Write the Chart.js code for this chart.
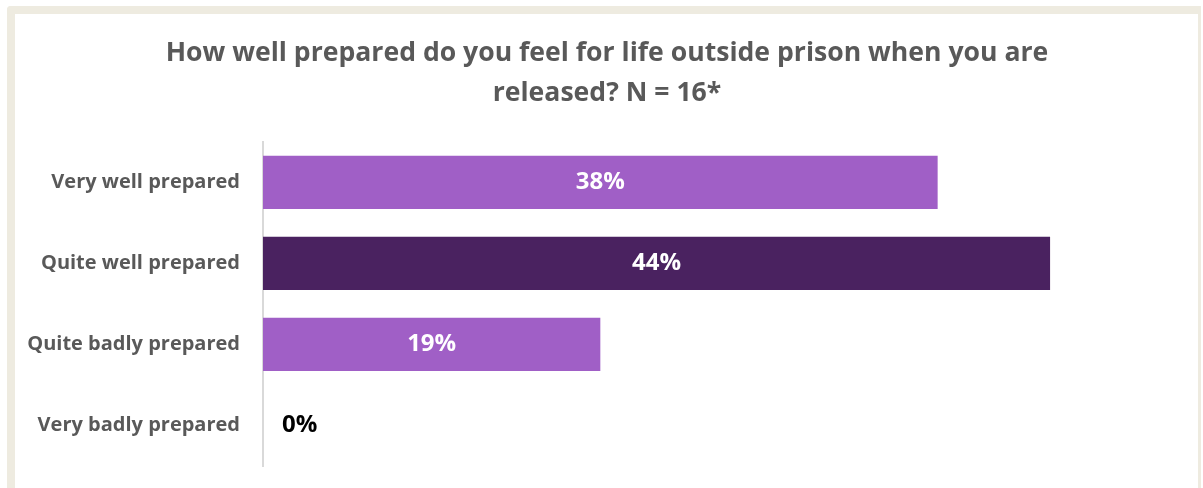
<!DOCTYPE html>
<html>
<head>
<meta charset="utf-8">
<script src="https://cdn.jsdelivr.net/npm/chart.js@4"></script>
<style>
  html, body { margin: 0; padding: 0; background: #fff; }
  #marco {
    position: absolute; left: 7px; top: 6px; width: 1183px; height: 490px;
    border-left: 8px solid #EEEBE0; border-top: 8px solid #EEEBE0; border-right: 3px solid #EEEBE0;
    border-top-left-radius: 4px;
  }
  #caja { position: absolute; left: 0; top: 0; width: 1203px; height: 488px; }
</style>
</head>
<body>
<div id="marco"></div>
<div id="caja"><canvas id="myChart" width="1203" height="488"></canvas></div>
<script>
//Categorias del eje Y
const categorias = ['Very well prepared', 'Quite well prepared', 'Quite badly prepared', 'Very badly prepared'];

//Valores en porcentaje (6/16, 7/16, 3/16, 0/16)
const valores = [37.5, 43.75, 18.75, 0];

//Etiquetas que se muestran en las barras
const etiquetas = ['38%', '44%', '19%', '0%'];

//Colores de cada barra
const colores = ['#A05FC6', '#4A2260', '#A05FC6', '#A05FC6'];

const titulo = ['How well prepared do you feel for life outside prison when you are', 'released? N = 16*'];

const fuente = "'Open Sans', 'Liberation Sans', sans-serif";

//Plugin para las etiquetas de datos
const etiquetasBarras = {
    id: 'etiquetasBarras',
    afterDatasetsDraw(chart) {
        const ctx = chart.ctx;
        const meta = chart.getDatasetMeta(0);
        ctx.save();
        ctx.font = 'bold 24px ' + fuente;
        ctx.textBaseline = 'middle';
        meta.data.forEach((barra, i) => {
            if (valores[i] > 0) {
                ctx.fillStyle = '#ffffff';
                ctx.textAlign = 'center';
                ctx.fillText(etiquetas[i], (barra.x + barra.base) / 2, barra.y);
            } else {
                ctx.fillStyle = '#000000';
                ctx.textAlign = 'left';
                ctx.fillText(etiquetas[i], barra.base + 19, barra.y);
            }
        });
        ctx.restore();
    }
};

const config = {
    type: 'bar',
    data: {
        labels: categorias,
        datasets: [{
            data: valores,
            backgroundColor: colores,
            barPercentage: 0.8,
            categoryPercentage: 0.82
        }]
    },
    options: {
        indexAxis: 'y',
        responsive: false,
        animation: false,
        layout: { padding: { top: 0, right: 0, bottom: 22, left: 11 } },
        plugins: {
            legend: { display: false },
            tooltip: { enabled: false },
            title: {
                display: true,
                text: titulo,
                color: '#595959',
                font: { family: fuente, size: 26.6, weight: 'bold', lineHeight: 1.52 },
                padding: { top: 33, bottom: 28 }
            }
        },
        scales: {
            x: { display: false, min: 0, max: 52.25 },
            y: {
                grid: { display: false },
                border: { display: true, color: '#D9D9D9', width: 2 },
                ticks: {
                    color: '#595959',
                    padding: 15,
                    font: { family: fuente, size: 20, weight: 'bold' }
                },
                afterFit(escala) {
                    escala.width = 252;
                    escala.paddingTop = 0;
                    escala.paddingBottom = 0;
                }
            }
        }
    },
    plugins: [etiquetasBarras]
};

new Chart(document.getElementById('myChart'), config);
</script>
</body>
</html>
